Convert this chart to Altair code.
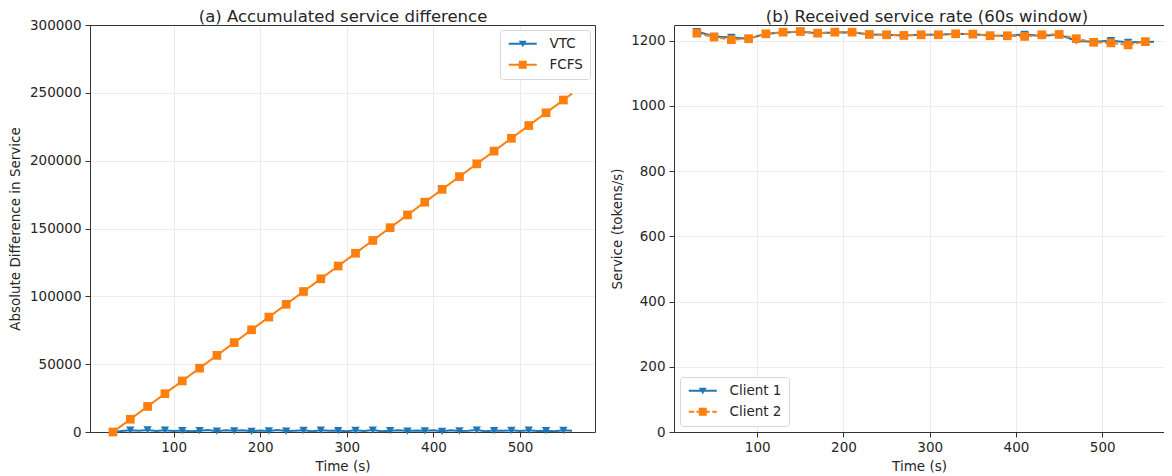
import altair as alt
import pandas as pd

# ---------------- data ----------------
time_a = [30, 40, 50, 60, 70, 80, 90, 100, 110, 120,
          130, 140, 150, 160, 170, 180, 190, 200, 210, 220,
          230, 240, 250, 260, 270, 280, 290, 300, 310, 320,
          330, 340, 350, 360, 370, 380, 390, 400, 410, 420,
          430, 440, 450, 460, 470, 480, 490, 500, 510, 520,
          530, 540, 550, 560]
vtc_diff = [0, 700, 1300, 900, 1500, 800, 1300, 700, 1100, 500,
            1000, 1400, 600, 1200, 900, 1300, 500, 1100, 800, 1400,
            700, 1000, 1200, 600, 1300, 900, 1100, 500, 1200, 800,
            1400, 600, 1000, 1300, 700, 1100, 900, 1200, 500, 1300,
            800, 1000, 1400, 600, 1100, 900, 1200, 700, 1300, 800,
            1000, 600, 1200, 900]
fcfs_diff = [0, 4700, 9400, 14100, 18850, 23550, 28250, 32950, 37650, 42350,
             47050, 51750, 56500, 61200, 65900, 70600, 75300, 80000, 84700, 89400,
             94100, 98850, 103550, 108250, 112950, 117650, 122350, 127050, 131750, 136500,
             141200, 145900, 150600, 155300, 160000, 164700, 169400, 174100, 178850, 183550,
             188250, 192950, 197650, 202350, 207050, 211750, 216500, 221200, 225900, 230600,
             235300, 240000, 244700, 249400]

time_c1 = [30, 50, 70, 90, 110, 130, 150, 170, 190, 210, 230, 250, 270, 290,
           310, 330, 350, 370, 390, 410, 430, 450, 470, 490, 510, 530, 550, 560]
client1_rate = [1228, 1213, 1210, 1206, 1221, 1225, 1227, 1223, 1225, 1226, 1219, 1218, 1216, 1218,
                1218, 1221, 1220, 1216, 1215, 1219, 1214, 1219, 1199, 1197, 1200, 1195, 1196, 1197]
time_c2 = [30, 50, 70, 90, 110, 130, 150, 170, 190, 210, 230, 250, 270, 290,
           310, 330, 350, 370, 390, 410, 430, 450, 470, 490, 510, 530, 550]
client2_rate = [1223, 1211, 1203, 1206, 1221, 1226, 1228, 1223, 1226, 1226, 1219, 1218, 1216, 1218,
                1218, 1221, 1220, 1215, 1215, 1213, 1218, 1219, 1206, 1195, 1193, 1187, 1197]

series_a = ["VTC", "FCFS"]
series_b = ["Client 1", "Client 2"]
x_ticks = [100, 200, 300, 400, 500]
y_ticks_a = [0, 50000, 100000, 150000, 200000, 250000, 300000]
y_ticks_b = [0, 200, 400, 600, 800, 1000, 1200]
title_a = "(a) Accumulated service difference"
title_b = "(b) Received service rate (60s window)"

# ---------------- style ----------------
FONT = "DejaVu Sans"
BLUE = "#1f77b4"
ORANGE = "#ff7f0e"
TXT = "#262626"
SPINE = "#333333"
PLOT_H = 407

# legend glyphs: line segment + marker (custom symbol paths)
P_TRI = "M-2.8,-0.2L2.8,-0.2L2.8,0.2L-2.8,0.2Z M-0.8,-0.6L0.8,-0.6L0,0.7Z"
P_SQ = "M-2.8,-0.2L2.8,-0.2L2.8,0.2L-2.8,0.2Z M-0.8,-0.8L0.8,-0.8L0.8,0.8L-0.8,0.8Z"
P_SQ_DASH = ("M-2.8,-0.2L-1.7,-0.2L-1.7,0.2L-2.8,0.2Z "
             "M-1.25,-0.2L-0.8,-0.2L-0.8,0.2L-1.25,0.2Z "
             "M-0.8,-0.8L0.8,-0.8L0.8,0.8L-0.8,0.8Z "
             "M0.8,-0.2L1.4,-0.2L1.4,0.2L0.8,0.2Z "
             "M1.9,-0.2L2.8,-0.2L2.8,0.2L1.9,0.2Z")

df_a = pd.DataFrame({
    "t": time_a + time_a,
    "value": vtc_diff + fcfs_diff,
    "series": [series_a[0]] * len(time_a) + [series_a[1]] * len(time_a),
})
df_b = pd.DataFrame({
    "t": time_c1 + time_c2,
    "value": client1_rate + client2_rate,
    "series": [series_b[0]] * len(time_c1) + [series_b[1]] * len(time_c2),
})

MARK_FILTER = "(datum.t - 30) % 20 == 0"


def legend(orient, offset):
    return alt.Legend(
        orient=orient, offset=offset, title=None, padding=7, cornerRadius=3,
        strokeColor="#d6d6d6", fillColor="white",
        labelFont=FONT, labelFontSize=13.5, labelColor=TXT,
        symbolSize=100, symbolOffset=9, labelOffset=20, rowPadding=6,
    )


spine_axis = dict(labels=False, ticks=False, grid=False, title=None, domain=True,
                  domainColor=SPINE)


def panel(df, xdom, ydom, yticks, ytitle, ytitle_pad, series, colors, paths, leg,
          title, width, title_x, right_spine):
    xs = alt.Scale(domain=xdom, nice=False, zero=False)
    ys = alt.Scale(domain=ydom, nice=False)
    x_main = alt.X("t:Q", scale=xs, axis=alt.Axis(values=x_ticks, title="Time (s)",
                                                  titlePadding=5, labelPadding=3.5))
    y_main = alt.Y("value:Q", scale=ys,
                   axis=alt.Axis(values=yticks, format="d", title=ytitle, titlePadding=ytitle_pad))
    x_none = alt.X("t:Q", scale=xs, axis=None)
    y_none = alt.Y("value:Q", scale=ys, axis=None)
    # top spine carrying the panel title
    x_top = alt.X("t:Q", scale=xs, axis=alt.Axis(
        orient="top", labels=False, ticks=False, grid=False, domain=True, domainColor=SPINE,
        title=title, titleFontSize=16.5, titlePadding=1, titleX=title_x, titleAlign="center",
        titleFont=FONT, titleColor=TXT, titleFontWeight="normal"))
    if right_spine:
        y_side = alt.Y("value:Q", scale=ys, axis=alt.Axis(orient="right", **spine_axis))
    else:
        y_side = y_none

    s1, s2 = series
    c1, c2 = colors
    line1 = alt.Chart(df).transform_filter(f"datum.series == '{s1}'").mark_line(
        color=c1, strokeWidth=2).encode(x=x_main, y=y_main)
    pts1 = alt.Chart(df).transform_filter(f"datum.series == '{s1}' && " + MARK_FILTER).mark_point(
        shape="triangle-down", filled=True, size=70, color=c1, opacity=1).encode(x=x_none, y=y_none)
    dash = [5.5, 2.4] if s2 == "Client 2" else [1, 0]
    line2 = alt.Chart(df).transform_filter(f"datum.series == '{s2}'").mark_line(
        color=c2, strokeWidth=2, strokeDash=dash).encode(x=x_none, y=y_none)
    pts2 = alt.Chart(df).transform_filter(f"datum.series == '{s2}' && " + MARK_FILTER).mark_point(
        shape="square", filled=True, size=76, color=c2, opacity=1).encode(x=x_none, y=y_none)
    leg_layer = alt.Chart(df).transform_filter("false").mark_point(
        filled=True, opacity=1, size=100).encode(
        x=x_top, y=y_side,
        color=alt.Color("series:N", scale=alt.Scale(domain=series, range=list(colors)), legend=leg),
        shape=alt.Shape("series:N", scale=alt.Scale(domain=series, range=list(paths)), legend=leg),
    )
    return alt.layer(line1, pts1, line2, pts2, leg_layer).resolve_axis(
        x="independent", y="independent"
    ).properties(width=width, height=PLOT_H)


panel_a = panel(df_a, [3.5, 586.5], [0, 300000], y_ticks_a, "Absolute Difference in Service", 7,
                series_a, (BLUE, ORANGE), (P_TRI, P_SQ), legend("top-right", 5),
                title_a, 505, 252.5, True)
panel_b = panel(df_b, [3.5, 571.6], [0, 1248], y_ticks_b, "Service (tokens/s)", 6,
                series_b, (BLUE, ORANGE), (P_TRI, P_SQ_DASH), legend("bottom-left", 6),
                title_b, 490, 252.5, False)

chart = alt.hconcat(panel_a, panel_b, spacing=15).resolve_scale(
    color="independent", shape="independent"
).properties(
    padding={"left": 0, "top": 0, "right": 0, "bottom": 0}
).configure_axis(
    labelFont=FONT, titleFont=FONT, labelFontSize=13.5, titleFontSize=13.5,
    labelColor=TXT, titleColor=TXT, titleFontWeight="normal",
    domainColor=SPINE, tickColor=SPINE, tickSize=5, labelPadding=4,
    gridColor="#ebebeb", gridWidth=1, domainWidth=1,
).configure_view(
    strokeOpacity=0,
)

chart.save("out.html", embed_options={"renderer": "svg", "actions": False})
